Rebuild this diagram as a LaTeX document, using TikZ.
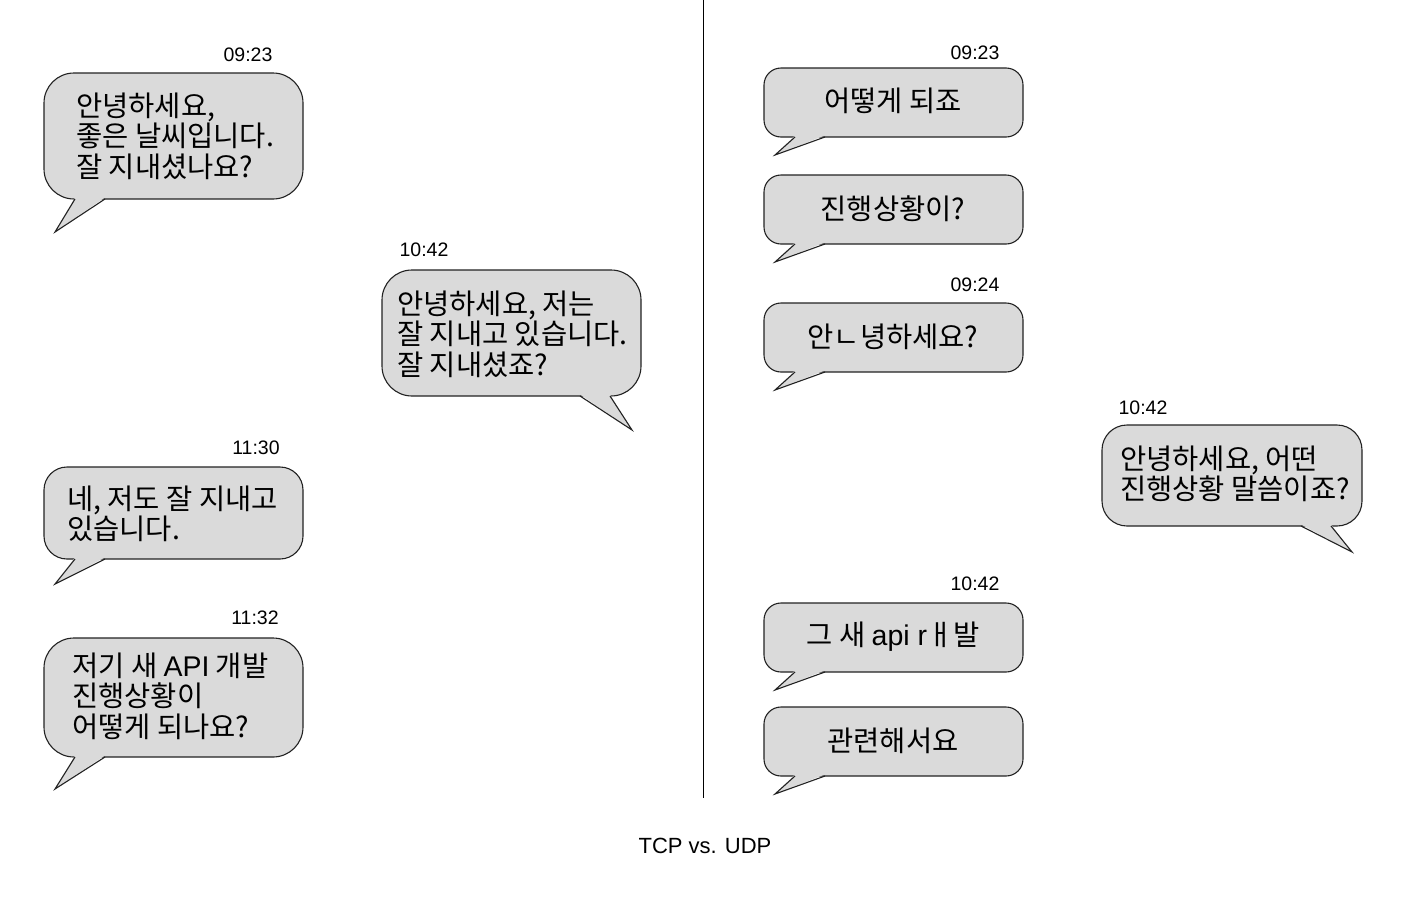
\documentclass[tikz,border=0pt]{standalone}
\usepackage{fontspec}
\setmainfont{Liberation Sans}
\newfontfamily\krfont{Noto Sans CJK KR}
\definecolor{bubblefill}{HTML}{DADADA}
\definecolor{bubbleline}{HTML}{222222}
\tikzset{
  bubble/.style={fill=bubblefill, draw=bubbleline, line width=1.1pt},
  tailline/.style={draw=bubbleline, line width=1.1pt, line join=miter},
  msg/.style={font=\krfont\fontsize{28.5}{30.5}\selectfont, align=left, inner sep=0pt, anchor=west},
  msgc/.style={font=\krfont\fontsize{28.5}{30.5}\selectfont, inner sep=0pt},
  stamp/.style={font=\fontsize{19.5}{21}\selectfont, inner sep=0pt},
}
\newcommand\lat[1]{{\fontspec{Liberation Sans}#1}}
% left-tailed bubble: x1 y1 x2 y2 radius tipx tipy
\newcommand\bubbleL[7]{%
  \draw[bubble, rounded corners=#5pt] (#1,#2) rectangle (#3,#4);
  \fill[bubblefill] (#1+31,#4-1.6) -- (#1+61,#4-1.6) -- (#6,#7) -- cycle;
  \draw[tailline] (#1+31,#4) -- (#6,#7) -- (#1+61,#4);
}
% right-tailed bubble
\newcommand\bubbleR[7]{%
  \draw[bubble, rounded corners=#5pt] (#1,#2) rectangle (#3,#4);
  \fill[bubblefill] (#3-61,#4-1.6) -- (#3-31,#4-1.6) -- (#6,#7) -- cycle;
  \draw[tailline] (#3-61,#4) -- (#6,#7) -- (#3-31,#4);
}
\begin{document}
\begin{tikzpicture}[x=1pt,y=-1pt]
\fill[white] (0,0) rectangle (1404,900);
\useasboundingbox (0,0) rectangle (1404,900);

% divider
\coordinate (divtop) at (703,0);
\coordinate (divbot) at (703,798);
\draw[line width=1pt] (divtop) -- (divbot);

% left column (TCP)
\bubbleL{44}{73}{303}{199}{30}{55}{232}
\bubbleR{382}{270}{641}{396}{30}{632}{430}
\bubbleL{44}{467}{303}{559}{23}{55}{584}
\bubbleL{44}{638}{303}{757}{30}{55}{789}

\node[stamp] (t1) at (248,55) {09:23};
\node[msg] (m1) at (76,136) {안녕하세요,\\좋은 날씨입니다.\\잘 지내셨나요?};
\node[stamp] (t2) at (424,250) {10:42};
\node[msg] (m2) at (397,334) {안녕하세요, 저는\\잘 지내고 있습니다.\\잘 지내셨죠?};
\node[stamp] (t3) at (256,448) {11:30};
\node[msg] (m3) at (67,514) {네, 저도 잘 지내고\\있습니다.};
\node[stamp] (t4) at (255,618) {11:32};
\node[msg] (m4) at (72,696) {저기 새 \lat{API} 개발\\진행상황이\\어떻게 되나요?};

% right column (UDP)
\bubbleL{764}{68}{1023}{137}{17}{775}{155}
\bubbleL{764}{175}{1023}{244}{17}{775}{262}
\bubbleL{764}{303}{1023}{372}{17}{775}{390}
\bubbleR{1102}{425}{1362}{526}{25}{1352}{552}
\bubbleL{764}{603}{1023}{672}{17}{775}{690}
\bubbleL{764}{707}{1023}{776}{17}{775}{794}

\node[stamp] (t5) at (975,53) {09:23};
\node[msgc] (m5) at (893,101) {어떻게 되죠};
\node[msgc] (m6) at (893,209) {진행상황이?};
\node[stamp] (t6) at (975,285) {09:24};
\node[msgc] (m7) at (893,337) {안ㄴ녕하세요?};
\node[stamp] (t7) at (1143,408) {10:42};
\node[msg] (m8) at (1120,474) {안녕하세요, 어떤\\진행상황 말씀이죠?};
\node[stamp] (t8) at (975,584) {10:42};
\node[msgc] (m9) at (893,637) {그 새 \lat{api r}ㅐ발};
\node[msgc] (m10) at (893,741) {관련해서요};

% title
\node[font=\fontsize{22}{24}\selectfont, inner sep=0pt] (title) at (705,846) {TCP vs. UDP};
\end{tikzpicture}
\end{document}
